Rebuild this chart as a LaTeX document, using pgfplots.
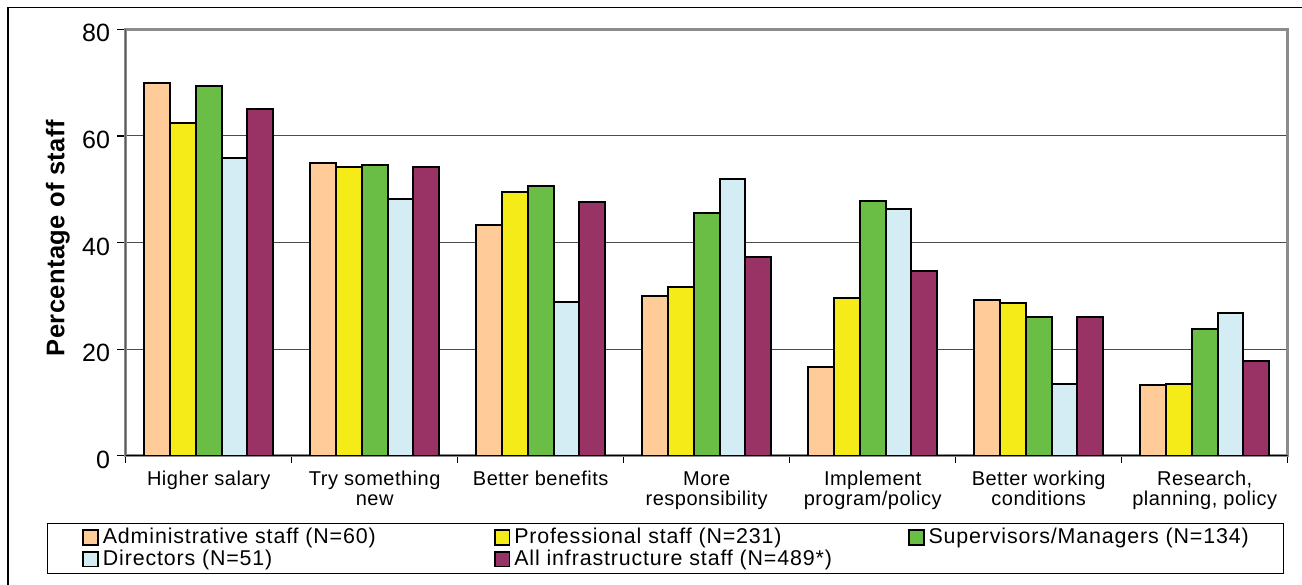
\documentclass[border=0pt]{standalone}
\usepackage{fontspec}
\setmainfont{Liberation Sans}
\newfontfamily\tickfont[LetterSpace=2.5]{Liberation Sans}
\newfontfamily\legfont[LetterSpace=4]{Liberation Sans}
\newfontfamily\labfont[LetterSpace=1.5]{Liberation Sans}
\usepackage{pgfplots}
\pgfplotsset{compat=1.18}

\definecolor{admin}{HTML}{FFCC99}
\definecolor{prof}{HTML}{F5EB19}
\definecolor{sup}{HTML}{6ABD45}
\definecolor{dir}{HTML}{D4EDF4}
\definecolor{allstaff}{HTML}{993366}

\pgfplotsset{
  sq/.style={legend image code/.code={%
    \draw[fill=#1, draw=black, line width=0.9bp] (0bp,-3.6bp) rectangle (7.4bp,3.8bp);}},
  mybar/.style={ybar, bar width=0.155, draw=black, line width=1bp, fill=#1, sq=#1}
}

\begin{document}
\begin{tikzpicture}
\path[use as bounding box] (0,0) rectangle (651bp,292.5bp);
\draw[line width=0.6bp] (4bp,-2bp) -- (4bp,288.85bp) -- (653bp,288.85bp);
\begin{axis}[
  at={(62.85bp,64.65bp)}, anchor=south west,
  scale only axis, width=581bp, height=213.2bp,
  ymin=0, ymax=80, ytick={0,20,...,80},
  xmin=-0.5, xmax=6.5,
  xtick={0,...,6},
  xticklabels={Higher salary, Try something\\new, Better benefits,
    More\\responsibility, Implement\\program/policy,
    Better working\\conditions, {Research,\\planning, policy}},
  major x tick style={draw=none},
  minor xtick={-0.5,0.5,...,6.5},
  minor tick length=3.5bp,
  major tick length=4.35bp,
  tick align=outside,
  xtick pos=left, ytick pos=left,
  tick style={black, line width=0.6bp},
  ymajorgrids, grid style={black!70, line width=0.5bp},
  axis line style={black!45, line width=1.2bp},
  /pgf/number format/assume math mode=true,
  yticklabel style={font=\fontsize{12.5bp}{12.5bp}\selectfont, yshift=-2bp},
  xticklabel style={font=\tickfont\fontsize{10bp}{10bp}\selectfont, align=center},
  ylabel={Percentage of staff},
  ylabel style={font=\labfont\bfseries\fontsize{12.75bp}{14bp}\selectfont,
    at={(rel axis cs:-0.0585,0.51)}, anchor=center},
  legend columns=3,
  legend cell align=left,
  legend style={at={(rel axis cs:-0.0675,-0.157)}, anchor=north west,
    draw=black, line width=0.6bp,
    font=\legfont\fontsize{10.7bp}{12bp}\selectfont,
    inner xsep=17.2bp, inner ysep=1.8bp, row sep=0pt, column sep=0pt,
    nodes={inner xsep=0pt, inner ysep=0.8bp},
    /tikz/every odd column/.style={column sep=2bp},
    /tikz/column 2/.style={column sep=59bp},
    /tikz/column 4/.style={column sep=38bp}},
]
\addplot[mybar=admin, bar shift=-0.31] coordinates
  {(0,70.0) (1,55.0) (2,43.3) (3,30.0) (4,16.6) (5,29.2) (6,13.3)};
\addplot[mybar=prof, bar shift=-0.155] coordinates
  {(0,62.5) (1,54.2) (2,49.5) (3,31.7) (4,29.5) (5,28.6) (6,13.4)};
\addplot[mybar=sup, bar shift=0] coordinates
  {(0,69.4) (1,54.5) (2,50.6) (3,45.5) (4,47.8) (5,26.1) (6,23.8)};
\addplot[mybar=dir, bar shift=0.155] coordinates
  {(0,55.8) (1,48.1) (2,28.8) (3,51.9) (4,46.2) (5,13.4) (6,26.8)};
\addplot[mybar=allstaff, bar shift=0.31] coordinates
  {(0,65.0) (1,54.2) (2,47.6) (3,37.3) (4,34.6) (5,26.1) (6,17.8)};
\legend{Administrative staff (N=60), Professional staff (N=231),
  Supervisors/Managers (N=134), Directors (N=51),
  All infrastructure staff (N=489*)}
\draw[black, line width=0.75bp] (rel axis cs:0,1) -- (rel axis cs:0,0) -- (rel axis cs:1,0);
\end{axis}
\end{tikzpicture}
\end{document}
